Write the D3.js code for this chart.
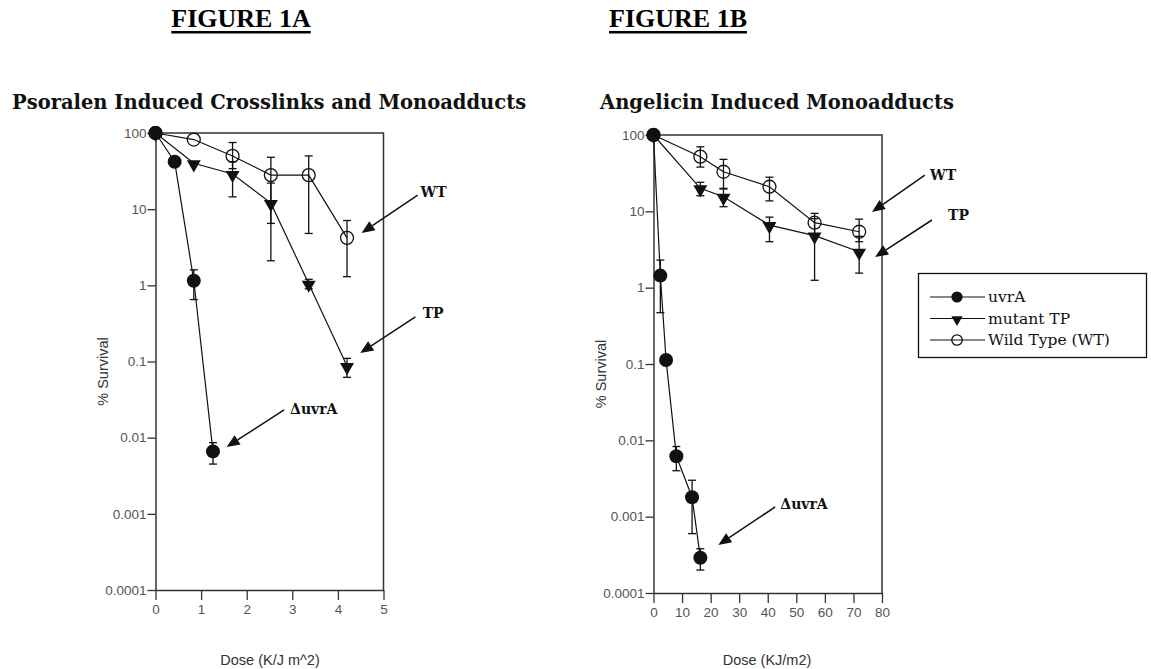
<!DOCTYPE html>
<html>
<head>
<meta charset="utf-8">
<script src="https://cdn.jsdelivr.net/npm/d3@7"></script>
<style>
body { margin: 0; background: #fff; }
svg { display: block; }
</style>
</head>
<body>
<script>
// tick values and labels
var yTicks = [100, 10, 1, 0.1, 0.01, 0.001, 0.0001];
var yTickLabels = ["100", "10", "1", "0.1", "0.01", "0.001", "0.0001"];
var xTicksA = [0, 1, 2, 3, 4, 5];
var xTicksB = [0, 10, 20, 30, 40, 50, 60, 70, 80];

var seriesNames = ["uvrA", "mutant TP", "Wild Type (WT)"];

// Figure 1A - psoralen (dose, survival %, error low, error high)
var psoUvrA = [
    {d: 0, s: 100},
    {d: 0.42, s: 42},
    {d: 0.84, s: 1.15, lo: 0.65, hi: 1.6},
    {d: 1.26, s: 0.0066, lo: 0.0045, hi: 0.0086}
];
var psoTP = [
    {d: 0, s: 100},
    {d: 0.84, s: 40},
    {d: 1.69, s: 29, lo: 14.5, hi: 42},
    {d: 2.53, s: 12, lo: 2.1, hi: 22},
    {d: 3.36, s: 1.05, lo: 0.9, hi: 1.2},
    {d: 4.2, s: 0.087, lo: 0.062, hi: 0.11}
];
var psoWT = [
    {d: 0, s: 100},
    {d: 0.84, s: 82},
    {d: 1.69, s: 50, lo: 34, hi: 75},
    {d: 2.53, s: 28, lo: 6.5, hi: 48},
    {d: 3.36, s: 28, lo: 4.8, hi: 50},
    {d: 4.2, s: 4.2, lo: 1.3, hi: 7.1}
];

// Figure 1B - angelicin
var angUvrA = [
    {d: 0, s: 100},
    {d: 2.4, s: 1.44, lo: 0.47, hi: 2.3},
    {d: 4.4, s: 0.113},
    {d: 8, s: 0.0062, lo: 0.004, hi: 0.0083},
    {d: 13.5, s: 0.0018, lo: 0.0006, hi: 0.003},
    {d: 16.4, s: 0.00029, lo: 0.0002, hi: 0.00038}
];
var angTP = [
    {d: 0, s: 100},
    {d: 16.4, s: 20, lo: 16, hi: 24},
    {d: 24.5, s: 15.5, lo: 11.5, hi: 20},
    {d: 40.6, s: 6.6, lo: 4, hi: 8.4},
    {d: 56.4, s: 4.8, lo: 1.25, hi: 8},
    {d: 72, s: 2.96, lo: 1.55, hi: 4.7}
];
var angWT = [
    {d: 0, s: 100},
    {d: 16.4, s: 52, lo: 38, hi: 70},
    {d: 24.5, s: 33, lo: 19.6, hi: 48},
    {d: 40.6, s: 21, lo: 13.7, hi: 28},
    {d: 56.4, s: 7.1, lo: 5, hi: 9.4},
    {d: 72, s: 5.4, lo: 4, hi: 7.9}
];

// arrow annotations in data units [dose, survival]
var notesA = [
    {text: "WT", tail: [5.75, 15.3], tip: [4.52, 4.87], at: [5.81, 14.4]},
    {text: "TP", tail: [5.70, 0.384], tip: [4.49, 0.129], at: [5.86, 0.372]},
    {text: "\u0394uvrA", tail: [2.82, 0.0231], tip: [1.56, 0.00755], at: [2.95, 0.0205]}
];
var notesB = [
    {text: "WT", tail: [95.0, 29.9], tip: [76.5, 9.8], at: [96.8, 25.7]},
    {text: "TP", tail: [97.5, 7.7], tip: [77.6, 2.52], at: [103.1, 7.7]},
    {text: "\u0394uvrA", tail: [42.6, 0.00134], tip: [22.7, 0.000426], at: [44.4, 0.00126]}
];

const ink = "#111",
      axisInk = "#333",
      tickText = "#555",
      serif = "'DejaVu Serif', serif",
      sans = "'Liberation Sans', Arial, sans-serif";

var svg = d3.select("body")
    .append("svg")
    .attr("width", 1151)
    .attr("height", 669);

function marker(g, kind, cx, cy, scale) {
    if (kind == 0) {
        g.append("circle")
            .attr("cx", cx).attr("cy", cy).attr("r", 7 * scale)
            .attr("fill", ink);
    }
    else if (kind == 1) {
        g.append("path")
            .attr("d", d3.symbol(d3.symbolTriangle, 85 * scale * scale)())
            .attr("transform", "translate(" + cx + "," + (cy + 1) + ") rotate(180)")
            .attr("fill", ink);
    }
    else {
        g.append("circle")
            .attr("cx", cx).attr("cy", cy).attr("r", 6.5 * scale)
            .attr("fill", "none")
            .attr("stroke", ink)
            .attr("stroke-width", 1.3);
    }
}

function drawPanel(p) {
    var x = d3.scaleLinear().domain(p.xDomain).range([p.left, p.right]);
    var y = d3.scaleLog().domain([100, 0.0001]).range([p.top, p.bottom]);

    var g = svg.append("g");

    // frame (top and right edges)
    g.append("path")
        .attr("d", "M" + p.left + "," + p.top + "H" + p.right + "V" + p.bottom)
        .attr("fill", "none")
        .attr("stroke", axisInk)
        .attr("stroke-width", 1.5);

    var yAxis = g.append("g")
        .attr("transform", "translate(" + p.left + ",0)")
        .call(d3.axisLeft(y).tickValues(yTicks)
            .tickFormat(function (d, i) { return yTickLabels[i]; })
            .tickSize(8).tickPadding(1).tickSizeOuter(0));

    var xAxis = g.append("g")
        .attr("transform", "translate(0," + p.bottom + ")")
        .call(d3.axisBottom(x).tickValues(p.xTicks)
            .tickFormat(d3.format("d"))
            .tickSize(10).tickPadding(4).tickSizeOuter(0));

    [yAxis, xAxis].forEach(function (a) {
        a.select(".domain").attr("stroke", axisInk).attr("stroke-width", 1.5);
        a.selectAll(".tick line").attr("stroke", axisInk).attr("stroke-width", 1.3);
        a.selectAll("text")
            .attr("font-family", sans)
            .attr("font-size", "13.5px")
            .attr("fill", tickText);
    });

    // axis titles
    g.append("text")
        .text("% Survival")
        .attr("transform", "translate(" + p.yLabelX + "," + ((p.top + p.bottom) / 2 + 10) + ") rotate(-90)")
        .attr("font-family", sans)
        .attr("font-size", "14.5px")
        .attr("fill", axisInk)
        .attr("text-anchor", "middle");

    g.append("text")
        .text(p.xLabel)
        .attr("x", p.xLabelX)
        .attr("y", 665)
        .attr("font-family", sans)
        .attr("font-size", "14.5px")
        .attr("fill", axisInk)
        .attr("text-anchor", "middle");

    // series: lines, error bars, then markers
    var line = d3.line()
        .x(function (d) { return x(d.d); })
        .y(function (d) { return y(d.s); });

    p.series.forEach(function (data, k) {
        g.append("path")
            .datum(data)
            .attr("d", line)
            .attr("fill", "none")
            .attr("stroke", ink)
            .attr("stroke-width", 1.2);

        data.forEach(function (pt) {
            if (pt.lo === undefined) return;
            var cx = x(pt.d);
            g.append("line")
                .attr("x1", cx).attr("x2", cx)
                .attr("y1", y(pt.lo)).attr("y2", y(pt.hi))
                .attr("stroke", ink).attr("stroke-width", 1.3);
            [pt.lo, pt.hi].forEach(function (v) {
                g.append("line")
                    .attr("x1", cx - 4).attr("x2", cx + 4)
                    .attr("y1", y(v)).attr("y2", y(v))
                    .attr("stroke", ink).attr("stroke-width", 1.3);
            });
        });

        data.forEach(function (pt) {
            marker(g, k, x(pt.d), y(pt.s), 1);
        });
    });

    // arrows with labels
    p.notes.forEach(function (n) {
        var x1 = x(n.tail[0]), y1 = y(n.tail[1]),
            x2 = x(n.tip[0]), y2 = y(n.tip[1]);
        var ang = Math.atan2(y2 - y1, x2 - x1);
        var headLen = 13, headW = 5.5;
        var bx = x2 - headLen * Math.cos(ang),
            by = y2 - headLen * Math.sin(ang);
        g.append("line")
            .attr("x1", x1).attr("y1", y1)
            .attr("x2", bx).attr("y2", by)
            .attr("stroke", ink).attr("stroke-width", 1.5);
        var px = -Math.sin(ang) * headW,
            py = Math.cos(ang) * headW;
        g.append("path")
            .attr("d", "M" + x2 + "," + y2 +
                "L" + (bx + px) + "," + (by + py) +
                "L" + (bx - px) + "," + (by - py) + "Z")
            .attr("fill", ink);
        g.append("text")
            .text(n.text)
            .attr("x", x(n.at[0]))
            .attr("y", y(n.at[1]))
            .attr("font-family", serif)
            .attr("font-weight", "bold")
            .attr("font-size", "14px")
            .attr("fill", ink);
    });
}

drawPanel({
    xDomain: [0, 5], xTicks: xTicksA,
    left: 155.5, right: 383.5, top: 133, bottom: 590,
    series: [psoUvrA, psoTP, psoWT],
    notes: notesA,
    yLabelX: 108, xLabel: "Dose (K/J m^2)", xLabelX: 270
});

drawPanel({
    xDomain: [0, 80], xTicks: xTicksB,
    left: 653.5, right: 882, top: 135, bottom: 593,
    series: [angUvrA, angTP, angWT],
    notes: notesB,
    yLabelX: 606, xLabel: "Dose (KJ/m2)", xLabelX: 767
});

// figure headings
[["FIGURE 1A", 241], ["FIGURE 1B", 678]].forEach(function (h) {
    var t = svg.append("text")
        .text(h[0])
        .attr("x", h[1])
        .attr("y", 27)
        .attr("font-family", "'Liberation Serif', 'Times New Roman', serif")
        .attr("font-weight", "bold")
        .attr("font-size", "26px")
        .attr("fill", "#000")
        .attr("text-anchor", "middle");
    var w = t.node().getComputedTextLength();
    svg.append("rect")
        .attr("x", h[1] - w / 2).attr("y", 31)
        .attr("width", w).attr("height", 2.5)
        .attr("fill", "#000");
});

// panel subtitles
[["Psoralen Induced Crosslinks and Monoadducts", 12], ["Angelicin Induced Monoadducts", 600]].forEach(function (s) {
    svg.append("text")
        .text(s[0])
        .attr("x", s[1])
        .attr("y", 109)
        .attr("font-family", serif)
        .attr("font-weight", "bold")
        .attr("font-size", "19.5px")
        .attr("fill", "#111");
});

// legend
var lg = svg.append("g");
lg.append("rect")
    .attr("x", 918.5).attr("y", 273.5)
    .attr("width", 228).attr("height", 84)
    .attr("fill", "#fff")
    .attr("stroke", ink)
    .attr("stroke-width", 1.3);

seriesNames.forEach(function (name, k) {
    var ly = 297 + k * 21.5;
    lg.append("line")
        .attr("x1", 930).attr("x2", 985)
        .attr("y1", ly).attr("y2", ly)
        .attr("stroke", ink).attr("stroke-width", 1.2);
    marker(lg, k, 957, ly, 0.8);
    lg.append("text")
        .text(name)
        .attr("x", 988)
        .attr("y", ly + 5)
        .attr("font-family", serif)
        .attr("font-size", "15.5px")
        .attr("fill", ink);
});
</script>
</body>
</html>
